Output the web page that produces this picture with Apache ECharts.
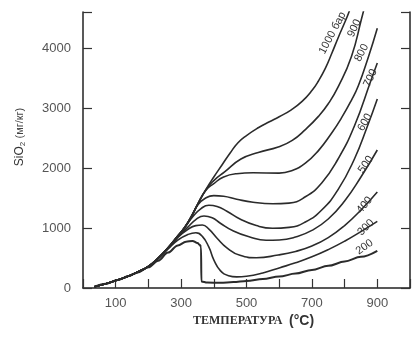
<!DOCTYPE html>
<html><head><meta charset="utf-8">
<script src="https://cdn.jsdelivr.net/npm/echarts@6/dist/echarts.min.js"></script>
<style>html,body{margin:0;padding:0;background:#fff}#c{width:419px;height:337px}</style>
</head><body><div id="c"></div>
<script>
// Temperature (°C) vs SiO2 (mg/kg) for pressures (bar)
const xLabelTicks = [100, 300, 500, 700, 900];
const yLabelTicks = [0, 1000, 2000, 3000, 4000];
const pressureNames = ['200', '300', '400', '500', '600', '700', '800', '900', '1000'];

const s200 = [[35,20],[70,70],[106,133],[140,200],[167,260],[200,345],[230,455],[260,590],[290,710],[315,770],[335,785],[350,750],[358,715],[361,680],[362,110],[380,90],[420,88],[460,98],[500,118],[550,150],[600,190],[650,240],[700,300],[750,370],[800,440],[850,520],[900,620]];
const s300 = [[35,20],[70,70],[106,133],[140,200],[167,265],[200,355],[230,490],[260,650],[290,800],[320,890],[345,920],[365,860],[385,680],[400,470],[420,290],[445,205],[470,185],[500,195],[550,250],[600,335],[650,420],[700,520],[750,640],[800,780],[850,940],[900,1110]];
const s400 = [[35,20],[70,70],[106,133],[140,200],[167,266],[200,357],[230,495],[260,660],[290,845],[320,975],[345,1040],[365,1050],[385,980],[410,830],[440,670],[480,545],[530,505],[597,550],[650,610],[700,700],[750,840],[800,1040],[850,1300],[900,1600]];
const s500 = [[35,20],[70,70],[106,133],[140,200],[167,267],[200,358],[230,497],[260,665],[290,855],[320,1010],[345,1140],[370,1200],[395,1170],[420,1080],[460,950],[510,850],[560,795],[600,800],[650,850],[700,960],[750,1150],[800,1450],[850,1850],[900,2300]];
const s600 = [[35,20],[70,70],[106,133],[140,200],[167,267],[200,359],[230,498],[260,668],[290,862],[311,1005],[335,1185],[360,1320],[385,1380],[410,1360],[440,1280],[480,1150],[530,1040],[580,995],[630,1010],[680,1100],[730,1300],[780,1640],[830,2150],[870,2700],[900,3150]];
const s700 = [[35,20],[70,70],[106,133],[140,200],[167,267],[200,360],[230,499],[260,669],[290,866],[311,1008],[330,1170],[352,1390],[375,1500],[400,1540],[430,1530],[470,1480],[520,1430],[580,1405],[630,1415],[680,1520],[730,1750],[780,2150],[830,2700],[880,3450],[900,3750]];
const s800 = [[35,20],[70,70],[106,133],[140,200],[167,267],[200,360],[230,500],[260,670],[290,868],[311,1010],[330,1178],[352,1405],[376,1630],[400,1740],[430,1850],[470,1905],[520,1920],[600,1915],[640,1960],[680,2080],[720,2290],[760,2580],[790,2830],[820,3120],[842,3370],[873,3855],[900,4330]];
const s900 = [[35,20],[70,70],[106,133],[140,200],[167,267],[200,360],[230,500],[260,670],[290,869],[311,1010],[330,1180],[352,1410],[376,1640],[400,1790],[433,1935],[483,2150],[536,2260],[597,2350],[640,2460],[680,2640],[720,2860],[750,3070],[781,3360],[821,3860],[851,4470],[880,5100]];
const s1000 = [[35,20],[70,70],[106,133],[140,200],[167,267],[200,360],[230,500],[260,670],[290,870],[311,1012],[330,1182],[352,1412],[376,1645],[400,1850],[425,2050],[450,2250],[474,2420],[500,2540],[536,2670],[570,2770],[600,2855],[637,2970],[670,3110],[700,3290],[720,3450],[741,3660],[760,3900],[781,4180],[800,4420],[812,4580],[830,4850],[850,5150]];

// curve label anchors [T, C] and text
const curveLabelText = ['200', '300', '400', '500', '600', '700', '800', '900', '1000 бар'];
const curveLabelAt = [[861,683],[865,1010],[861,1383],[865,2060],[862,2760],[879,3500],[852,3920],[830,4330],[763,4250]];
const curveLabelRot = [35, 45, 50, 55, 60, 65, 62, 65, 62];

const allSeries = [s200, s300, s400, s500, s600, s700, s800, s900, s1000];

const chart = echarts.init(document.getElementById('c'), null, {renderer: 'canvas'});
const lineColor = '#2b2b2b';
const series = allSeries.map((d, i) => ({
  type: 'line',
  name: pressureNames[i],
  data: d,
  showSymbol: false,
  smooth: i === 0 ? 0.35 : 0.5,
  smoothMonotone: i === 0 ? 'x' : undefined,
  clip: true,
  lineStyle: {color: lineColor, width: i === 0 ? 2 : 1.6},
  markPoint: {
    symbol: 'circle', symbolSize: 0, silent: true,
    data: [{coord: curveLabelAt[i], name: curveLabelText[i],
      label: {show: true, position: 'inside', rotate: curveLabelRot[i], formatter: curveLabelText[i],
        fontSize: 11, color: '#333', fontFamily: 'Liberation Sans'}}]
  }
}));

chart.setOption({
  animation: false,
  backgroundColor: '#fff',
  grid: {left: 83, right: 9, top: 12, bottom: 49},
  xAxis: {
    type: 'value', min: 0, max: 1000, interval: 100,
    axisLine: {lineStyle: {color: '#222', width: 1.5}},
    axisTick: {inside: true, length: 9, lineStyle: {color: '#333', width: 1.2}},
    splitLine: {show: false},
    axisLabel: {margin: 9, fontSize: 13, color: '#555', fontFamily: 'Liberation Sans',
      formatter: v => xLabelTicks.includes(v) ? String(v) : ''}
  },
  yAxis: [{
    type: 'value', min: 0, max: 4600, interval: 1000, position: 'left',
    axisLine: {show: true, lineStyle: {color: '#222', width: 1.5}},
    axisTick: {show: true, inside: true, length: 9, lineStyle: {color: '#333', width: 1.2}},
    splitLine: {show: false},
    axisLabel: {margin: 12, fontSize: 13, color: '#555', fontFamily: 'Liberation Sans',
      formatter: v => yLabelTicks.includes(v) ? String(v) : ''}
  }, {
    type: 'value', min: 0, max: 4600, interval: 1000, position: 'right',
    axisLine: {show: true, lineStyle: {color: '#222', width: 1.5}},
    axisTick: {show: true, inside: true, length: 9, lineStyle: {color: '#333', width: 1.2}},
    splitLine: {show: false},
    axisLabel: {show: false}
  }],
  graphic: [
    {type: 'text', left: 193, top: 314, style: {
      rich: {a: {fontFamily: 'Liberation Serif', fontWeight: 'bold', fontSize: 12, fill: '#333'},
             b: {fontFamily: 'Liberation Sans', fontWeight: 'bold', fontSize: 14, fill: '#333'}},
      text: '{a|ТЕМПЕРАТУРА}  {b|(°C)}'}},
    {type: 'text', x: 20, y: 137, rotation: Math.PI / 2, style: {
      rich: {a: {fontFamily: 'Liberation Sans', fontSize: 12, fill: '#333'},
             s: {fontFamily: 'Liberation Sans', fontSize: 8, fill: '#333', padding: [6, 0, 0, 0]},
             b: {fontFamily: 'Liberation Sans', fontSize: 11, fill: '#444'}},
      text: '{a|SiO}{s|2} {b|(мг/кг)}', align: 'center', verticalAlign: 'middle'}}
  ],
  series: series
});
</script></body></html>
